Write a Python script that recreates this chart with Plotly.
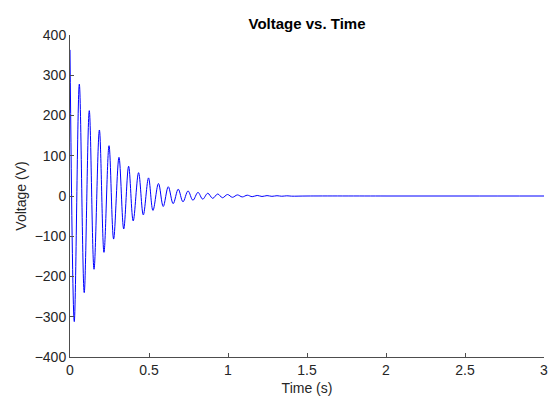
import plotly.graph_objects as go

# Extrema of the damped oscillation (time in s, voltage in V)
time_s = [0.0, 0.027, 0.059, 0.090, 0.122, 0.152, 0.186, 0.215, 0.247, 0.276,
          0.310, 0.340, 0.371, 0.400, 0.434, 0.464, 0.497, 0.525, 0.560, 0.590,
          0.622, 0.653, 0.685, 0.715, 0.747, 0.778, 0.810, 0.840, 0.872, 0.903,
          0.935, 0.965, 0.997, 1.028, 1.060, 1.090, 1.122, 1.153, 1.185, 1.215,
          1.247, 1.278, 1.310, 1.340, 1.372, 1.403, 1.500, 2.000, 2.500, 3.000]
voltage_v = [363, -312, 278, -240, 212, -182, 164, -140, 125, -107,
             96, -82, 74, -62, 58, -47, 45, -36, 31, -26,
             23, -19, 17, -14.5, 12.5, -10.5, 9, -7.8, 6.8, -5.8,
             5, -4.3, 3.7, -3.2, 2.7, -2.3, 2.0, -1.7, 1.4, -1.2,
             1.0, -0.85, 0.7, -0.6, 0.5, -0.4, 0, 0, 0, 0]

x_ticks = [0, 0.5, 1, 1.5, 2, 2.5, 3]
x_tick_text = ["0", "0.5", "1", "1.5", "2", "2.5", "3"]
y_ticks = [-400, -300, -200, -100, 0, 100, 200, 300, 400]

fig = go.Figure()
fig.add_trace(go.Scatter(
    x=time_s, y=voltage_v, mode="lines",
    line=dict(color="#0000ff", width=1, shape="spline", smoothing=1.0),
    hoverinfo="skip", showlegend=False,
))

font_family = "Liberation Sans, Arial, sans-serif"
axis_color = "#4d4d4d"
text_color = "#262626"

fig.update_layout(
    width=549, height=396,
    margin=dict(l=70, r=5, t=35, b=39, autoexpand=False),
    paper_bgcolor="white", plot_bgcolor="white",
    font=dict(family=font_family, size=14, color=text_color),
    title=dict(text="<b>Voltage vs. Time</b>", x=(70 + 544) / 2 / 549, xanchor="center",
               y=1 - 24 / 396, yanchor="middle",
               font=dict(family=font_family, size=15, color="#000000")),
    xaxis=dict(
        range=[0, 3], tickvals=x_ticks, ticktext=x_tick_text, automargin=False,
        showgrid=False, zeroline=False, showline=True, linecolor=axis_color, linewidth=1,
        ticks="inside", ticklen=4, tickcolor=axis_color,
        tickfont=dict(size=14, color=text_color),
        title=dict(text="Time (s)", font=dict(size=14, color=text_color)),
    ),
    yaxis=dict(
        range=[-400, 400], tickvals=y_ticks, automargin=False,
        showgrid=False, zeroline=False, showline=True, linecolor=axis_color, linewidth=1,
        ticks="inside", ticklen=4, tickcolor=axis_color,
        tickfont=dict(size=14, color=text_color),
        title=dict(text="Voltage (V)", standoff=4, font=dict(size=14, color=text_color)),
    ),
)

fig.write_html(
    "out.html",
    config={"displayModeBar": False},
    post_script="document.body.style.margin='0px';document.body.style.overflow='hidden';",
)
